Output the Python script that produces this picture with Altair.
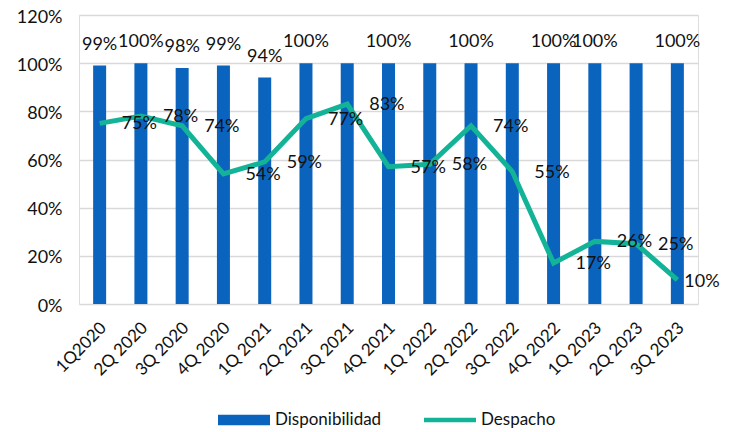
import altair as alt
import pandas as pd

quarters = ["1Q2020", "2Q 2020", "3Q 2020", "4Q 2020", "1Q 2021", "2Q 2021",
            "3Q 2021", "4Q 2021", "1Q 2022", "2Q 2022", "3Q 2022", "4Q 2022",
            "1Q 2023", "2Q 2023", "3Q 2023"]
disponibilidad = [99, 100, 98, 99, 94, 100, 100, 100, 100, 100, 100, 100, 100, 100, 100]
despacho = [75, 78, 74, 54, 59, 77, 83, 57, 58, 74, 55, 17, 26, 25, 10]
# which bar value labels are visible in the original (Excel hid overlapping ones)
bar_label_shown = [True, True, True, True, True, True, False, True, False, True,
                   False, True, True, False, True]

BLUE = "#0A63BC"
TEAL = "#13B398"
FONT = "Lato"
TXT = "#111111"

df_bar = pd.DataFrame({
    "q": quarters,
    "v": [x / 100 for x in disponibilidad],
    "serie": "Disponibilidad",
    "lbl": [f"{x}%" if s else "" for x, s in zip(disponibilidad, bar_label_shown)],
})
df_line = pd.DataFrame({
    "q": quarters,
    "v": [x / 100 for x in despacho],
    "serie": "Despacho",
    "lbl": [f"{x}%" for x in despacho],
    "last": [i == len(quarters) - 1 for i in range(len(quarters))],
})

x_enc = alt.X("q:N", sort=quarters, title=None,
              scale=alt.Scale(paddingInner=0, paddingOuter=0),
              axis=alt.Axis(labelAngle=-45, labelAlign="right", labelBaseline="middle",
                            labelPadding=21, labelOffset=4, labelFontSize=17,
                            labelColor=TXT, ticks=False, domain=False, grid=False,
                            labelFont=FONT))
y_enc = alt.Y("v:Q", title=None,
              scale=alt.Scale(domain=[0, 1.2], nice=False),
              axis=alt.Axis(values=[0, 0.2, 0.4, 0.6, 0.8, 1.0, 1.2], format=".0%",
                            labelFontSize=18, labelColor=TXT, labelPadding=17,
                            labelOffset=2, ticks=False, domain=False,
                            gridColor="#D9D9D9", gridWidth=1.5, labelFont=FONT))

sym_bar = "M-1,-0.2H1V0.2H-1Z"
sym_line = "M-1,-0.09H1V0.09H-1Z"

bar_color = alt.Color(
    "serie:N",
    scale=alt.Scale(domain=["Disponibilidad"], range=[BLUE]),
    legend=alt.Legend(
        title=None, orient="none", direction="horizontal", legendX=139, legendY=379,
        labelFontSize=17, labelFont=FONT, labelColor=TXT, labelOffset=5,
        symbolType=sym_bar, symbolSize=2704, symbolStrokeWidth=0, symbolOpacity=1,
        symbolFillColor=BLUE, padding=0,
    ),
)
line_color = alt.Color(
    "serie:N",
    scale=alt.Scale(domain=["Despacho"], range=[TEAL]),
    legend=alt.Legend(
        title=None, orient="none", direction="horizontal", legendX=345, legendY=379,
        labelFontSize=17, labelFont=FONT, labelColor=TXT, labelOffset=5,
        symbolType=sym_line, symbolSize=2704, symbolStrokeWidth=0, symbolOpacity=1,
        symbolFillColor=TEAL, padding=0,
    ),
)

bars = alt.Chart(df_bar).mark_bar(size=13).encode(x=x_enc, y=y_enc, color=bar_color)
bar_text = alt.Chart(df_bar).mark_text(
    dy=-21, fontSize=18, font=FONT, color=TXT, baseline="middle"
).encode(x=alt.X("q:N", sort=quarters), y="v:Q", text="lbl:N")

line = alt.Chart(df_line).mark_line(strokeWidth=5).encode(
    x=alt.X("q:N", sort=quarters), y="v:Q", color=line_color)
line_text = alt.Chart(df_line).transform_filter("!datum.last").mark_text(
    dx=22, dy=1, align="left", fontSize=18, font=FONT, color=TXT, baseline="middle"
).encode(x=alt.X("q:N", sort=quarters), y="v:Q", text="lbl:N")
line_text_last = alt.Chart(df_line).transform_filter("datum.last").mark_text(
    dx=7, dy=2, align="left", fontSize=18, font=FONT, color=TXT, baseline="middle"
).encode(x=alt.X("q:N", sort=quarters), y="v:Q", text="lbl:N")

chart = alt.layer(bars, line, bar_text, line_text, line_text_last).resolve_scale(
    color="independent"
).properties(
    width=619, height=289,
    autosize=alt.AutoSizeParams(type="none"),
    padding={"left": 71, "top": 7, "right": 28, "bottom": 127},
).configure_view(stroke=None).configure(font=FONT)

chart.save("out.html", embed_options={"renderer": "svg", "actions": False})
